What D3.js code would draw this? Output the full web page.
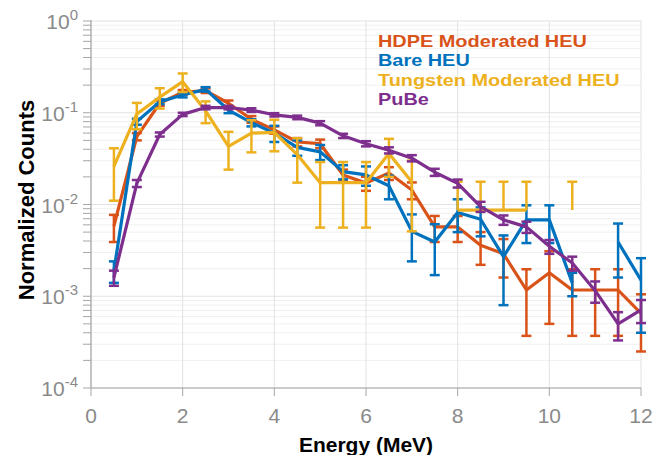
<!DOCTYPE html>
<html>
<head>
<meta charset="utf-8">
<script src="https://cdn.jsdelivr.net/npm/d3@7"></script>
<style>
  body { margin: 0; background: #fff; }
  text { font-family: "Liberation Sans", Arial, sans-serif; }
</style>
</head>
<body>
<div id="chart"></div>
<script>
// energies (MeV)
const energy = [0.5,1,1.5,2,2.5,3,3.5,4,4.5,5,5.5,6,6.5,7,7.5,8,8.5,9,9.5,10,10.5,11,11.5,12]

// HDPE moderated HEU
const hdpeVal = [0.0058,0.055,0.127,0.167,0.174,0.127,0.085,0.065,0.048,0.046,0.021,0.0171,0.022,0.0144,0.0057,0.0057,0.0036,0.0029,0.00117,0.0018,0.00117,0.00117,0.00117,0.00065]
const hdpeErr = [0.0019,0.005,0.008,0.01,0.01,0.009,0.007,0.006,0.005,0.005,0.003,0.003,0.0035,0.003,0.0018,0.0018,0.0014,0.0013,0.0008,0.0013,0.0008,0.0008,0.0008,0.0004]

// bare HEU
const bareVal = [0.0019,0.080,0.132,0.156,0.180,0.107,0.078,0.060,0.042,0.0375,0.0228,0.021,0.016,0.0051,0.0039,0.0082,0.0069,0.0027,0.0068,0.0068,0.0014,null,0.0039,0.0015]
const bareErr = [0.0005,0.006,0.008,0.009,0.01,0.008,0.007,0.012,0.008,0.007,0.004,0.005,0.0046,0.0027,0.0022,0.0032,0.0024,0.0019,0.003,0.003,0.0004,null,0.0023,0.0011]

// tungsten moderated HEU
const tungVal = [0.026,0.097,0.148,0.218,0.105,0.043,0.060,0.061,0.035,0.0173,0.0173,0.0173,0.036,0.0176,null,0.0087,0.0087,0.0087,0.0087,null,0.0087,null,null,null]
const tungErr = [0.015,0.031,0.037,0.05,0.028,0.019,0.023,0.023,0.0177,0.0117,0.0117,0.0117,0.016,0.0125,null,0.009,0.009,0.009,0.009,null,0.009,null,null,null]

// PuBe
const pubeVal = [0.0016,0.017,0.058,0.096,0.114,0.114,0.107,0.095,0.089,0.077,0.056,0.046,0.039,0.032,0.0225,0.017,0.0095,0.0068,0.0057,0.0035,0.0023,0.00115,0.0005,0.00071]
const pubeErr = [0.0003,0.0015,0.003,0.004,0.005,0.005,0.005,0.004,0.004,0.004,0.003,0.003,0.003,0.0025,0.002,0.0017,0.0012,0.0008,0.0008,0.0006,0.0004,0.0003,0.00017,0.0002]

const seriesNames = ["HDPE Moderated HEU","Bare HEU","Tungsten Moderated HEU","PuBe"]
const seriesColors = ["#D95319","#0072BD","#EDB120","#7E2F8E"]

const xTicks = [0,2,4,6,8,10,12]
const yExps = [0,-1,-2,-3,-4]

const width = 652, height = 455
const mLeft = 91, mRight = 641, mTop = 21, mBottom = 388

const svg = d3.select("#chart").append("svg")
    .attr("width", width)
    .attr("height", height)

const x = d3.scaleLinear().domain([0,12]).range([mLeft,mRight])
const y = d3.scaleLog().domain([1e-4,1]).range([mBottom,mTop])

// grid
const grid = svg.append("g")
const minor = []
for(let k=-4;k<0;k++){
    for(let m=2;m<=9;m++) minor.push(m*Math.pow(10,k))
}
grid.selectAll(".ymin").data(minor).enter().append("line")
    .attr("x1", mLeft).attr("x2", mRight)
    .attr("y1", d => y(d)).attr("y2", d => y(d))
    .attr("stroke","#f0f0f0").attr("stroke-width",1)
grid.selectAll(".ymaj").data(yExps).enter().append("line")
    .attr("x1", mLeft).attr("x2", mRight)
    .attr("y1", d => y(Math.pow(10,d))).attr("y2", d => y(Math.pow(10,d)))
    .attr("stroke","#e2e2e2").attr("stroke-width",1)
grid.selectAll(".xmaj").data(xTicks).enter().append("line")
    .attr("x1", d => x(d)).attr("x2", d => x(d))
    .attr("y1", mTop).attr("y2", mBottom)
    .attr("stroke","#e2e2e2").attr("stroke-width",1)

// axes
const axisCol = "#a6a6a6"
svg.append("line").attr("x1",mLeft).attr("x2",mLeft).attr("y1",mTop-1).attr("y2",mBottom)
    .attr("stroke",axisCol).attr("stroke-width",1.2)
svg.append("line").attr("x1",mLeft).attr("x2",mRight).attr("y1",mBottom).attr("y2",mBottom)
    .attr("stroke",axisCol).attr("stroke-width",1.2)

svg.selectAll(".ytk").data(minor.concat(yExps.map(e => Math.pow(10,e)))).enter().append("line")
    .attr("x1", mLeft-8).attr("x2", mLeft)
    .attr("y1", d => y(d)).attr("y2", d => y(d))
    .attr("stroke",axisCol).attr("stroke-width",1)
svg.selectAll(".xtk").data(xTicks).enter().append("line")
    .attr("x1", d => x(d)).attr("x2", d => x(d))
    .attr("y1", mBottom).attr("y2", mBottom+8)
    .attr("stroke",axisCol).attr("stroke-width",1)

svg.selectAll(".xlab").data(xTicks).enter().append("text")
    .attr("x", d => x(d)).attr("y", 423)
    .attr("text-anchor","middle")
    .attr("font-size", 21).attr("fill","#8a8a8a")
    .text(d => d)

const ylab = svg.selectAll(".ylab").data(yExps).enter().append("text")
    .attr("x", 78).attr("y", d => y(Math.pow(10,d)) + 8)
    .attr("text-anchor","end")
    .attr("font-size", 21).attr("fill","#8a8a8a")
ylab.append("tspan").text("10")
ylab.append("tspan").attr("dy",-9).attr("font-size",15).text(d => d === 0 ? "0" : "-" + (-d))

// titles
svg.append("text")
    .attr("transform","translate(34,200) rotate(-90)")
    .attr("text-anchor","middle")
    .attr("font-size",22).attr("font-weight","bold").attr("fill","#000")
    .text("Normalized Counts")
svg.append("text")
    .attr("x",366).attr("y",452)
    .attr("text-anchor","middle")
    .attr("font-size",21).attr("font-weight","bold").attr("fill","#000")
    .text("Energy (MeV)")

// series
const allVals = [hdpeVal, bareVal, tungVal, pubeVal]
const allErrs = [hdpeErr, bareErr, tungErr, pubeErr]

const line = d3.line()
    .defined(d => d.v !== null && d.v > 0)
    .x(d => x(d.e))
    .y(d => y(d.v))

allVals.forEach(function(vals, si){
    const pts = energy.map((e,i) => ({e: e, v: vals[i], err: allErrs[si][i]}))
    const g = svg.append("g")
    const col = seriesColors[si]
    g.append("path")
        .datum(pts)
        .attr("d", line)
        .attr("fill","none")
        .attr("stroke", col)
        .attr("stroke-width", 3.2)
        .attr("stroke-linejoin","round")

    const ok = pts.filter(d => d.v !== null && d.v > 0)
    const cap = 5
    ok.forEach(function(d){
        const cx = x(d.e)
        const hi = d.v + d.err
        const lo = d.v - d.err
        const yHi = y(hi)
        const yLo = lo > 0 ? y(lo) : y(d.v)
        g.append("line").attr("x1",cx).attr("x2",cx).attr("y1",yHi).attr("y2",yLo)
            .attr("stroke",col).attr("stroke-width",2.5)
        g.append("line").attr("x1",cx-cap).attr("x2",cx+cap).attr("y1",yHi).attr("y2",yHi)
            .attr("stroke",col).attr("stroke-width",2.5)
        if(lo > 0){
            g.append("line").attr("x1",cx-cap).attr("x2",cx+cap).attr("y1",yLo).attr("y2",yLo)
                .attr("stroke",col).attr("stroke-width",2.5)
        }
    })
})

// legend (slightly wide lettering, tight leading like the original)
const leg = svg.append("g")
    .attr("transform","translate(378,0) scale(1.17,1)")
leg.selectAll(".leg").data(seriesNames).enter().append("text")
    .attr("x", 0).attr("y", (d,i) => 47 + i*19.4)
    .attr("font-size", 17).attr("font-weight","bold")
    .attr("fill", (d,i) => seriesColors[i])
    .text(d => d)
</script>
</body>
</html>
